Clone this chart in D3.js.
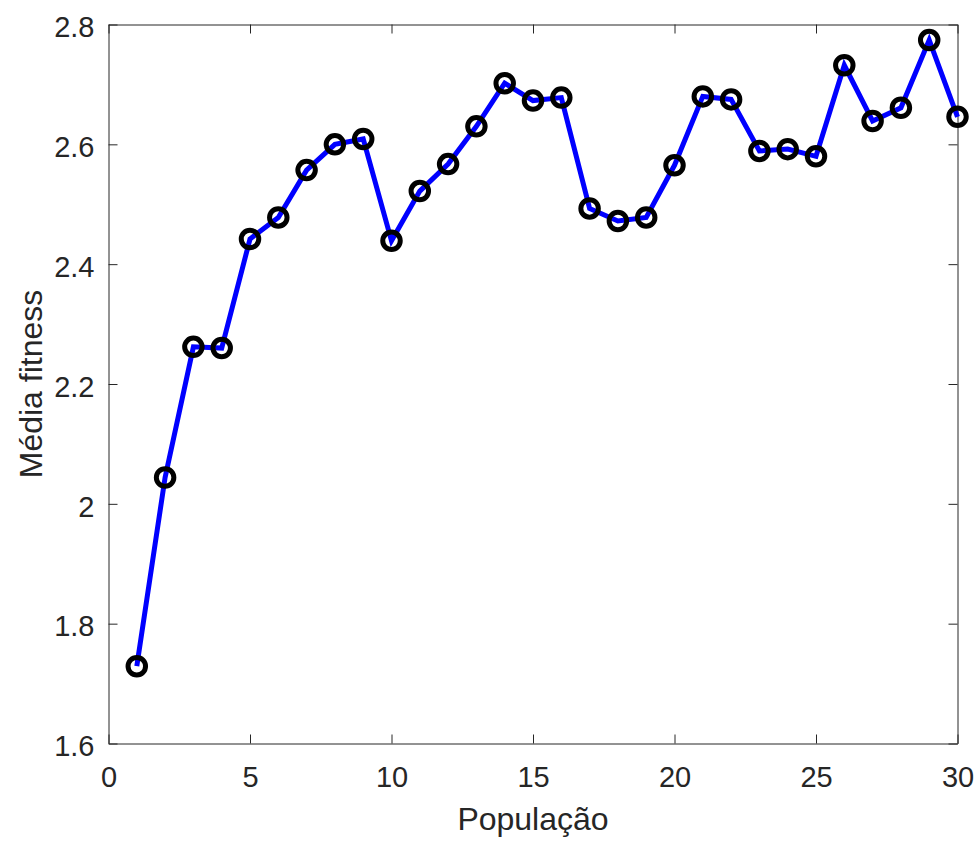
<!DOCTYPE html>
<html>
<head>
<meta charset="utf-8">
<script src="https://cdn.jsdelivr.net/npm/d3@7"></script>
<style>
  html, body { margin: 0; padding: 0; background: #ffffff; }
  svg { display: block; }
  text { font-family: "Liberation Sans", Arial, Helvetica, sans-serif; fill: #262626; }
</style>
</head>
<body>
<svg id="chart" width="976" height="842"></svg>
<script>
// ---- data ----
const population = [1,2,3,4,5,6,7,8,9,10,11,12,13,14,15,16,17,18,19,20,21,22,23,24,25,26,27,28,29,30];
const mediaFitness = [1.729, 2.044, 2.262, 2.260, 2.442, 2.478, 2.557, 2.600, 2.609, 2.439,
                      2.522, 2.567, 2.630, 2.702, 2.673, 2.678, 2.493, 2.472, 2.478, 2.565,
                      2.680, 2.675, 2.589, 2.592, 2.580, 2.732, 2.639, 2.661, 2.774, 2.646];
const xTicks = [0, 5, 10, 15, 20, 25, 30];
const yTicks = [1.6, 1.8, 2.0, 2.2, 2.4, 2.6, 2.8];
const xTickLabels = ["0", "5", "10", "15", "20", "25", "30"];
const yTickLabels = ["1.6", "1.8", "2", "2.2", "2.4", "2.6", "2.8"];
const xLabel = "População";
const yLabel = "Média fitness";

// ---- layout ----
const plotLeft = 108.5, plotRight = 957.5, plotTop = 24.5, plotBottom = 743.5;
const svg = d3.select("#chart");

const x = d3.scaleLinear().domain([0, 30]).range([plotLeft, plotRight]);
const y = d3.scaleLinear().domain([1.6, 2.8]).range([plotBottom, plotTop]);

const axisColor = "#262626";
const tickFont = 29;
const labelFont = 32;

function styleAxis(g) {
  g.selectAll("path.domain").attr("stroke", axisColor).attr("stroke-width", 1);
  g.selectAll(".tick line").attr("stroke", axisColor).attr("stroke-width", 1);
  g.selectAll(".tick text").attr("fill", axisColor)
    .attr("font-family", '"Liberation Sans", Arial, Helvetica, sans-serif')
    .attr("font-size", tickFont);
}

// bottom axis
const gB = svg.append("g").attr("transform", `translate(0,${plotBottom})`)
  .call(d3.axisBottom(x).tickValues(xTicks)
    .tickFormat((d, i) => xTickLabels[i])
    .tickSizeInner(-9).tickSizeOuter(0).tickPadding(22.5));
styleAxis(gB);

// top axis
const gT = svg.append("g").attr("transform", `translate(0,${plotTop})`)
  .call(d3.axisTop(x).tickValues(xTicks).tickFormat("")
    .tickSizeInner(-9).tickSizeOuter(0));
styleAxis(gT);

// left axis
const gL = svg.append("g").attr("transform", `translate(${plotLeft},0)`)
  .call(d3.axisLeft(y).tickValues(yTicks)
    .tickFormat((d, i) => yTickLabels[i])
    .tickSizeInner(-9).tickSizeOuter(0).tickPadding(14));
styleAxis(gL);
gL.selectAll(".tick text").attr("dy", "0.42em");

// right axis
const gR = svg.append("g").attr("transform", `translate(${plotRight},0)`)
  .call(d3.axisRight(y).tickValues(yTicks).tickFormat("")
    .tickSizeInner(-9).tickSizeOuter(0));
styleAxis(gR);

// axis labels
svg.append("text")
  .attr("x", (plotLeft + plotRight) / 2)
  .attr("y", 830)
  .attr("text-anchor", "middle")
  .attr("font-size", labelFont)
  .text(xLabel);

svg.append("text")
  .attr("transform", `translate(41.5,${(plotTop + plotBottom) / 2}) rotate(-90)`)
  .attr("text-anchor", "middle")
  .attr("font-size", labelFont)
  .text(yLabel);

// data line
const pts = population.map((p, i) => [p, mediaFitness[i]]);
svg.append("path")
  .datum(pts)
  .attr("fill", "none")
  .attr("stroke", "#0000ff")
  .attr("stroke-width", 5)
  .attr("stroke-linejoin", "miter")
  .attr("d", d3.line().x(d => x(d[0])).y(d => y(d[1])));

// markers
svg.append("g").selectAll("circle")
  .data(pts)
  .join("circle")
  .attr("cx", d => x(d[0]))
  .attr("cy", d => y(d[1]))
  .attr("r", 8.75)
  .attr("fill", "none")
  .attr("stroke", "#000000")
  .attr("stroke-width", 5);
</script>
</body>
</html>
